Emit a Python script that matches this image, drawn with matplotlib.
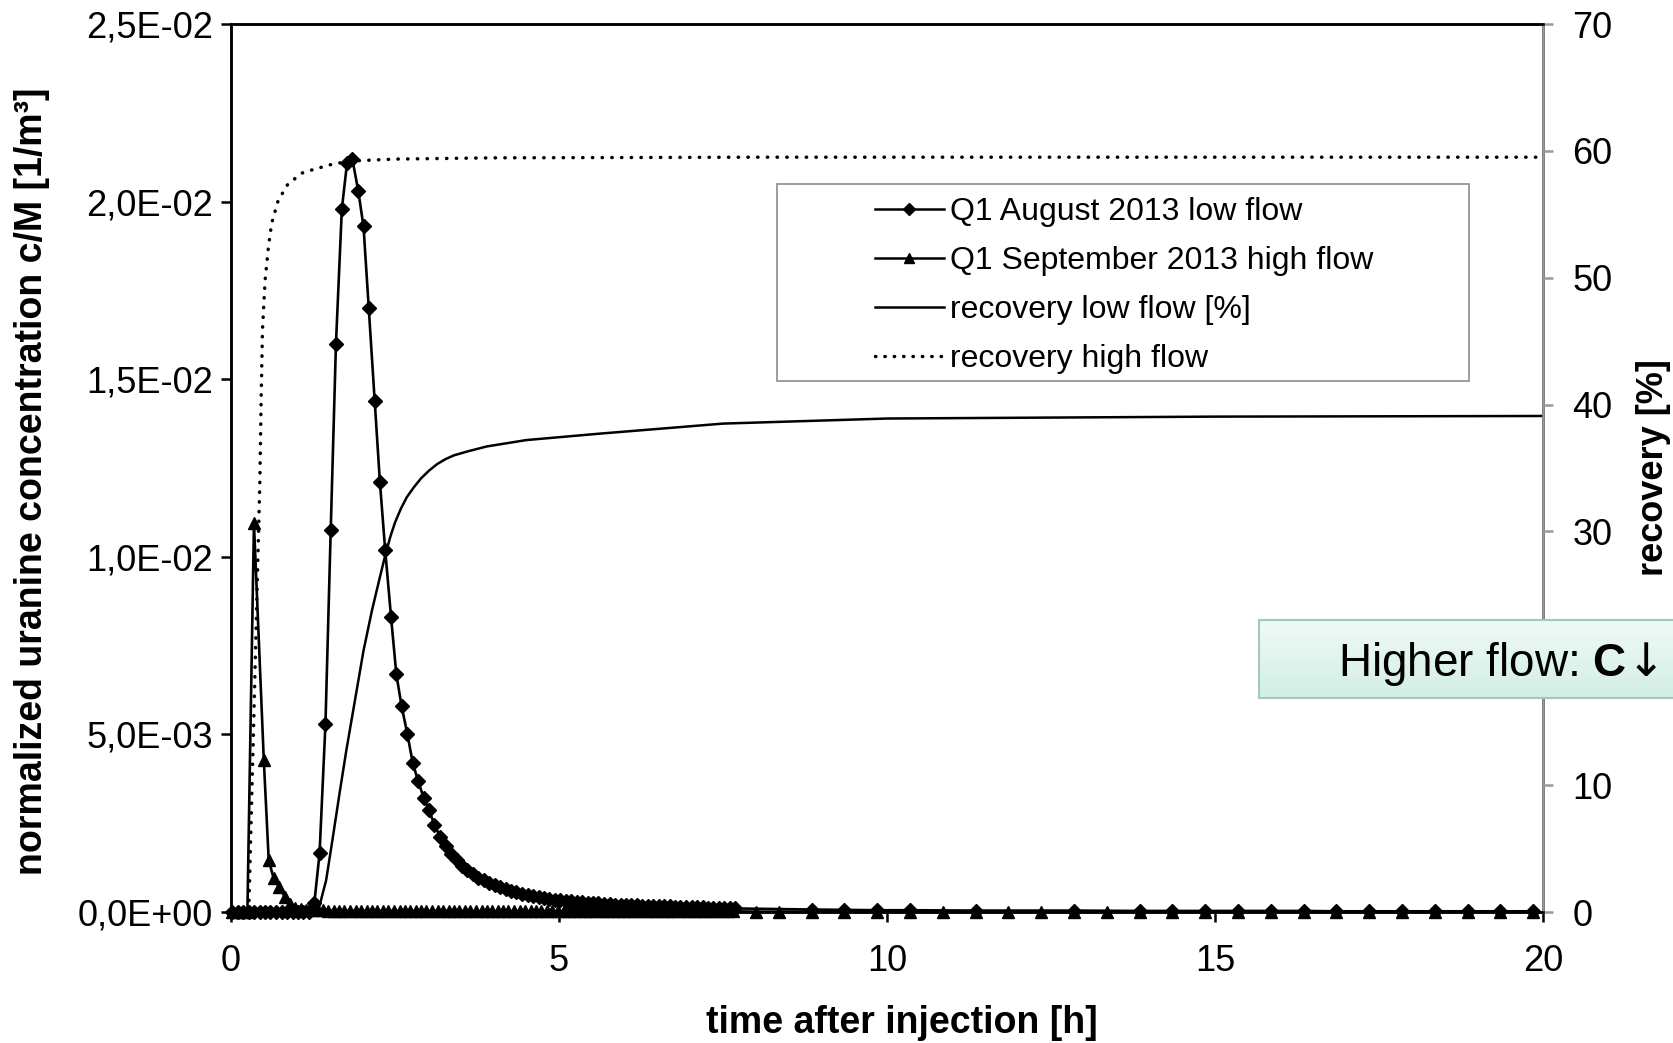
import matplotlib
matplotlib.use('Agg')
import matplotlib.pyplot as plt
import numpy as np
from matplotlib import font_manager
from matplotlib.lines import Line2D
from matplotlib.patches import Rectangle
from matplotlib.colors import LinearSegmentedColormap
from matplotlib.ticker import FuncFormatter

plt.rcParams['font.family'] = ['Liberation Sans', 'DejaVu Sans']
plt.rcParams['mathtext.fontset'] = 'custom'
plt.rcParams['mathtext.rm'] = 'DejaVu Sans'
plt.rcParams['mathtext.bf'] = 'Liberation Sans:bold'

# Q1 August 2013 low flow: time after injection [h], c/M [1e-3 1/m3]
t_low = [0.02, 0.10, 0.19, 0.27, 0.35, 0.44, 0.52, 0.60, 0.69, 0.77, 0.85, 0.94,
         1.02, 1.10, 1.19, 1.27, 1.35, 1.44, 1.52, 1.60, 1.69, 1.77, 1.85, 1.94,
         2.02, 2.10, 2.19, 2.27, 2.35, 2.44, 2.52, 2.60, 2.69, 2.77, 2.85, 2.94,
         3.02, 3.10, 3.19, 3.27, 3.35, 3.44, 3.52, 3.60, 3.69, 3.77, 3.85, 3.94,
         4.02, 4.10, 4.19, 4.27, 4.35, 4.44, 4.52, 4.60, 4.69, 4.77, 4.85, 4.94,
         5.02, 5.10, 5.19, 5.27, 5.35, 5.44, 5.52, 5.60, 5.69, 5.77, 5.85, 5.94,
         6.02, 6.10, 6.19, 6.27, 6.35, 6.44, 6.52, 6.60, 6.69, 6.77, 6.85, 6.94,
         7.02, 7.10, 7.19, 7.27, 7.35, 7.44, 7.52, 7.60, 7.69,
         8.85, 9.35, 9.85, 10.35, 11.35, 12.85, 13.85, 14.35, 14.85, 15.35,
         15.85, 16.35, 16.85, 17.35, 17.85, 18.35, 18.85, 19.35, 19.85]
c_low = [0, 0, 0, 0, 0, 0, 0, 0, 0, 0, 0, 0,
         0, 0, 0, 0.25, 1.65, 5.3, 10.75, 16.0, 19.8, 21.1, 21.2, 20.3,
         19.3, 17.0, 14.4, 12.1, 10.2, 8.3, 6.7, 5.8, 5.0, 4.2, 3.7, 3.2,
         2.87, 2.45, 2.12, 1.85, 1.62, 1.45, 1.30, 1.17, 1.06, 0.97, 0.89, 0.82,
         0.75, 0.69, 0.64, 0.59, 0.55, 0.51, 0.48, 0.45, 0.42, 0.40, 0.37, 0.35,
         0.33, 0.31, 0.30, 0.28, 0.27, 0.26, 0.25, 0.24, 0.23, 0.22, 0.21, 0.21,
         0.20, 0.19, 0.19, 0.18, 0.18, 0.17, 0.17, 0.16, 0.16, 0.15, 0.15, 0.14,
         0.14, 0.13, 0.13, 0.12, 0.12, 0.11, 0.11, 0.10, 0.10,
         0.07, 0.06, 0.05, 0.05, 0.04, 0.04, 0.03, 0.03, 0.03, 0.03,
         0.03, 0.03, 0.02, 0.02, 0.02, 0.02, 0.02, 0.02, 0.02]

# Q1 September 2013 high flow
t_high = [0.01, 0.09, 0.17, 0.25, 0.35, 0.50, 0.575, 0.65, 0.73, 0.82,
          0.90, 0.98, 1.07, 1.15, 1.23, 1.32, 1.40, 1.48, 1.57, 1.65, 1.73, 1.82, 1.90, 1.98,
          2.07, 2.15, 2.23, 2.32, 2.40, 2.48, 2.57, 2.65, 2.73, 2.82, 2.90, 2.98,
          3.07, 3.15, 3.23, 3.32, 3.40, 3.48, 3.57, 3.65, 3.73, 3.82, 3.90, 3.98,
          4.07, 4.15, 4.23, 4.32, 4.40, 4.48, 4.57, 4.65, 4.73, 4.82, 4.90, 4.98,
          5.07, 5.15, 5.23, 5.32, 5.40, 5.48, 5.57, 5.65, 5.73, 5.82, 5.90, 5.98,
          6.07, 6.15, 6.23, 6.32, 6.40, 6.48, 6.57, 6.65, 6.73, 6.82, 6.90, 6.98,
          7.07, 7.15, 7.23, 7.32, 7.40, 7.48, 7.57, 7.65,
          8.00, 8.35, 8.85, 9.35, 9.85, 10.35, 10.85, 11.35, 11.85, 12.35, 12.85, 13.35,
          13.85, 14.35, 14.85, 15.35, 15.85, 16.35, 16.85, 17.35, 17.85, 18.35, 18.85,
          19.35, 19.85]
c_high = [0, 0, 0, 0, 10.94, 4.28, 1.46, 0.95, 0.71, 0.43,
          0.22, 0.12, 0.09, 0.07, 0.06, 0.05, 0.05, 0.04, 0.04, 0.04, 0.04, 0.03, 0.03, 0.03,
          0.03, 0.03, 0.03, 0.03, 0.03, 0.03, 0.03, 0.03, 0.03, 0.03, 0.03, 0.03,
          0.03, 0.03, 0.03, 0.03, 0.03, 0.03, 0.02, 0.02, 0.02, 0.02, 0.02, 0.02,
          0.02, 0.02, 0.02, 0.02, 0.02, 0.02, 0.02, 0.02, 0.02, 0.02, 0.02, 0.02,
          0.02, 0.02, 0.02, 0.02, 0.02, 0.02, 0.02, 0.02, 0.02, 0.02, 0.02, 0.02,
          0.02, 0.02, 0.02, 0.02, 0.02, 0.02, 0.02, 0.02, 0.02, 0.02, 0.02, 0.02,
          0.02, 0.02, 0.02, 0.02, 0.02, 0.02, 0.02, 0.02,
          0.01, 0.01, 0.01, 0.01, 0.01, 0.01, 0.01, 0.01, 0.01, 0.01, 0.01, 0.01,
          0.01, 0.01, 0.01, 0.01, 0.01, 0.01, 0.01, 0.01, 0.01, 0.01, 0.01,
          0.01, 0.01]

# recovery [%]
t_rec_low = [0, 1.25, 1.35, 1.45, 1.55, 1.65, 1.76, 1.90, 2.02, 2.15, 2.27, 2.36,
             2.43, 2.50, 2.59, 2.68, 2.79, 2.90, 3.02, 3.14, 3.27, 3.40, 3.60, 3.90,
             4.50, 5.60, 7.50, 10.0, 15.0, 20.0]
rec_low = [0, 0, 0.5, 2.5, 5.8, 9.2, 12.8, 17.0, 20.6, 23.8, 26.4, 28.3,
           29.6, 30.7, 31.8, 32.7, 33.5, 34.2, 34.8, 35.3, 35.7, 36.0, 36.3, 36.7,
           37.2, 37.7, 38.5, 38.9, 39.05, 39.1]
t_rec_high = [0, 0.27, 0.35, 0.44, 0.46, 0.48, 0.52, 0.57, 0.62, 0.72, 0.87,
              1.10, 1.51, 1.81, 2.5, 4.0, 8.0, 20.0]
rec_high = [0, 0, 15.7, 34.0, 40.6, 45.9, 49.8, 52.4, 54.3, 56.1, 57.4,
            58.3, 58.9, 59.2, 59.35, 59.45, 59.5, 59.5]

W, H = 1673, 1043
fig = plt.figure(figsize=(W / 100, H / 100), dpi=100)
ax = fig.add_axes([231 / W, 1 - 912 / H, (1543 - 231) / W, (912 - 24) / H])
ax2 = ax.twinx()

ax.plot(t_low, np.array(c_low) * 1e-3, color='black', lw=1.9, marker='D', ms=7.6,
        clip_on=False, zorder=3)
ax.plot(t_high, np.array(c_high) * 1e-3, color='black', lw=1.9, marker='^', ms=9,
        clip_on=False, zorder=3)
ax2.plot(t_rec_low, rec_low, color='black', lw=1.8)
ax2.plot(t_rec_high, rec_high, color='black', lw=2.5, linestyle=(0, (0.1, 2.7)),
         dash_capstyle='round')

ax.set_xlim(0, 20)
ax.set_ylim(0, 0.025)
ax2.set_ylim(0, 70)
ax.set_xticks([0, 5, 10, 15, 20])
ax.set_yticks([0, 0.005, 0.01, 0.015, 0.02, 0.025])
ax2.set_yticks(range(0, 71, 10))
ax.yaxis.set_major_formatter(FuncFormatter(lambda v, p: f"{v:.1E}".replace('.', ',')))
# the "20" label sits behind the note box in the original
ax2.yaxis.set_major_formatter(FuncFormatter(lambda v, p: '' if v == 20 else f"{v:.0f}"))

for a in (ax, ax2):
    for s in a.spines.values():
        s.set_linewidth(1.8)
ax2.spines['right'].set_color('#999999')
ax.tick_params(axis='both', labelsize=26, width=1.8, length=7, direction='out')
ax.tick_params(axis='x', pad=16)
ax.tick_params(axis='y', pad=6)
ax2.tick_params(axis='y', labelsize=26, width=1.8, length=7, color='#999999', pad=14)

ax.set_xlabel('time after injection [h]', fontsize=27, fontweight='bold', labelpad=22)
ax.xaxis.set_label_coords(0.511, -0.105)
ax.set_ylabel('normalized uranine concentration c/M [1/m³]', fontsize=27, fontweight='bold')
ax.yaxis.set_label_coords(-0.138, 0.485)
ax2.set_ylabel('recovery [%]', fontsize=26, fontweight='bold')
ax2.yaxis.set_label_coords(1.071, 0.5)

# legend
try:
    font_manager.findfont('Liberation Sans Narrow', fallback_to_default=False)
    leg_prop = {'family': 'Liberation Sans Narrow', 'size': 28}
except ValueError:
    leg_prop = {'family': 'Liberation Sans', 'size': 23}

handles = [
    Line2D([], [], color='black', lw=1.8, marker='D', ms=6),
    Line2D([], [], color='black', lw=1.8, marker='^', ms=7),
    Line2D([], [], color='black', lw=1.8),
    Line2D([], [], color='black', lw=2.5, linestyle=(0, (0.1, 2.6)), dash_capstyle='round'),
]
labels = ['Q1 August 2013 low flow', 'Q1 September 2013 high flow',
          'recovery low flow [%]', 'recovery high flow']
fig.add_artist(Rectangle((777 / W, 1 - 381 / H), (1469 - 777) / W, (381 - 184) / H,
                         transform=fig.transFigure, facecolor='white',
                         edgecolor='#8c8c8c', lw=1.2, zorder=5))
leg = fig.legend(handles, labels, loc='upper left', bbox_to_anchor=(875 / W, 1 - 197 / H),
                 frameon=False, prop=leg_prop, handlelength=2.15, handletextpad=0.2,
                 labelspacing=0.6, borderpad=0, borderaxespad=0)
leg.set_zorder(6)

# annotation box
bax = fig.add_axes([1259 / W, 1 - 698 / H, 430 / W, 78 / H], zorder=10)
cmap = LinearSegmentedColormap.from_list('mint', ['#d2eee6', '#f0faf7'])
bax.imshow(np.linspace(0, 1, 64).reshape(-1, 1), aspect='auto', cmap=cmap,
           origin='lower', extent=[0, 1, 0, 1])
bax.set_xticks([])
bax.set_yticks([])
for s in bax.spines.values():
    s.set_color('#a3c9bd')
    s.set_linewidth(1.5)
bax.text(79 / 430, 0.43, 'Higher flow: $\\mathbf{C}↓$', fontsize=33, va='center', ha='left')

fig.savefig('out.png', dpi=100)
